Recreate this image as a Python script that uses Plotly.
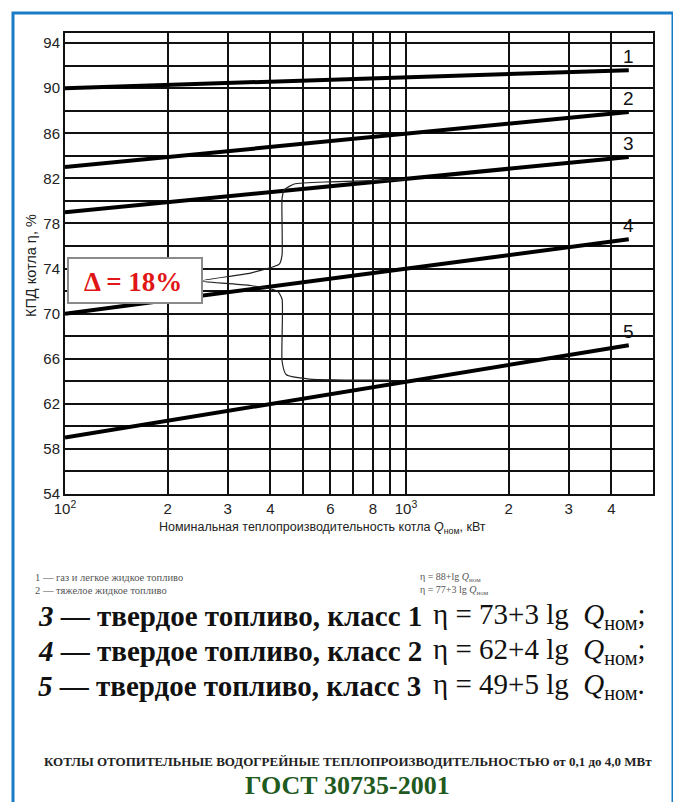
import math
import plotly.graph_objects as go

# ---------------- data ----------------
Q_START = 100          # kW, left end of every curve
Q_END = 4500           # kW, right end of every curve
curve_names = ["1", "2", "3", "4", "5"]
eta_start = [90.0, 83.0, 79.0, 70.0, 59.0]
eta_end = [91.6, 87.9, 83.9, 76.6, 67.2]

x_tick_vals = [100, 200, 300, 400, 500, 600, 700, 800, 900, 1000, 2000, 3000, 4000]
x_tick_text = ["10<sup>2</sup>", "2", "3", "4", "", "6", "", "8", "", "10<sup>3</sup>", "2", "3", "4"]
y_tick_vals = list(range(54, 95, 2))
y_tick_text = [str(v) if (v - 54) % 4 == 0 else "" for v in y_tick_vals]

# brace marking the 18 % spread
brace_q = [1000, 600, 470, 440, 433, 433, 425, 350, 250,
           350, 420, 433, 433, 445, 520, 900]
brace_eta = [81.9, 81.7, 81.5, 81.0, 80.2, 75.2, 74.4, 73.6, 72.9,
             72.5, 72.0, 71.3, 65.8, 64.6, 64.2, 64.1]

delta_text = "Δ = 18%"

legend_small = [("1 — газ и легкое жидкое топливо", "η = 88+lg <i>Q</i><sub>ном</sub>"),
                ("2 — тяжелое жидкое топливо", "η = 77+3 lg <i>Q</i><sub>ном</sub>")]
legend_big = [("3", "твердое топливо, класс 1", "η = 73+3 lg  ", ";"),
              ("4", "твердое топливо, класс 2", "η = 62+4 lg  ", ";"),
              ("5", "твердое топливо, класс 3", "η = 49+5 lg  ", ".")]
footer_small = "КОТЛЫ ОТОПИТЕЛЬНЫЕ ВОДОГРЕЙНЫЕ ТЕПЛОПРОИЗВОДИТЕЛЬНОСТЬЮ от 0,1 до 4,0 МВт"
footer_big = "ГОСТ 30735-2001"

# ---------------- layout geometry (window pixels; page has 8 px body margin) ----------------
OFF = 8
W, H = 681 - OFF, 802 - OFF
L, R, T, B = 65, 653, 33, 494   # plot area in window pixels
X_RANGE = [2.0, 3.7243]
Y_RANGE = [54.0, 94.9]


def px(x):
    return (x - L) / (R - L)


def py(y):
    return (B - y) / (B - T)


def note(x, y, text, size, color="#111", family="Liberation Serif", xanchor="center",
         yanchor="middle", angle=0):
    fig.add_annotation(xref="paper", yref="paper", x=px(x), y=py(y), text=text,
                       xanchor=xanchor, yanchor=yanchor, textangle=angle, showarrow=False,
                       font=dict(family=family, size=size, color=color))


fig = go.Figure()

for name, e0, e1 in zip(curve_names, eta_start, eta_end):
    fig.add_trace(go.Scatter(x=[Q_START, Q_END], y=[e0, e1], mode="lines",
                             line=dict(color="black", width=4), showlegend=False,
                             hoverinfo="skip"))
    fig.add_annotation(x=math.log10(Q_END), y=e1, xref="x", yref="y", text=name,
                       showarrow=False, xanchor="center", yanchor="bottom", yshift=1,
                       font=dict(family="Liberation Sans Narrow, Liberation Sans, Arial", size=19, color="#111"))

fig.add_trace(go.Scatter(x=brace_q, y=brace_eta, mode="lines",
                         line=dict(color="#222", width=1.2, shape="spline", smoothing=0.5),
                         showlegend=False, hoverinfo="skip"))

# delta box
fig.add_shape(type="rect", xref="paper", yref="paper", x0=px(68), x1=px(202), y0=py(303), y1=py(258),
              line=dict(color="#8a8a8a", width=2), fillcolor="white", layer="above")
note(133, 282, "<b>" + delta_text + "</b>", 27, color="#e01515")

# axis titles
sans = "Liberation Sans Narrow, Liberation Sans"
note(31, 266, "КПД котла η, %", 14.5, color="#222", family=sans, angle=-90)
note(322, 528, "Номинальная теплопроизводительность котла <i>Q</i><sub>ном</sub>, кВт",
     12.5, color="#222", family=sans)

# small legend rows
for i, (a, b) in enumerate(legend_small):
    yy = 577 + i * 13
    note(33, yy, a, 10.5, color="#555", xanchor="left")
    note(418, yy, b, 10, color="#555", xanchor="left")

# big legend rows
for i, (n, bold, eq, end) in enumerate(legend_big):
    yy = 616 + i * 35
    note(36, yy, "<i><b>" + n + "</b></i><b> — " + bold + "</b>", 29, xanchor="left")
    note(431, yy, eq + "<i>Q</i><sub>ном</sub>" + end, 29, xanchor="left")

note(348, 761, "<b>" + footer_small + "</b>", 13, color="#222")
note(347, 785, "<b>" + footer_big + "</b>", 26, color="#1f5a1f")

# blue frame
fig.add_shape(type="rect", xref="paper", yref="paper", x0=px(13), x1=px(673), y0=py(810), y1=py(13),
              line=dict(color="#1a7cc6", width=3), fillcolor="rgba(0,0,0,0)", layer="above")

fig.update_xaxes(type="log", range=X_RANGE, tickmode="array", tickvals=x_tick_vals, ticktext=x_tick_text,
                 showgrid=True, gridcolor="#111", gridwidth=2, showline=True, linecolor="#111",
                 linewidth=2, mirror=True, ticks="", zeroline=False,
                 tickfont=dict(family=sans, size=15, color="#222"))
fig.update_yaxes(range=Y_RANGE, tickmode="array", tickvals=y_tick_vals, ticktext=y_tick_text,
                 showgrid=True, gridcolor="#111", gridwidth=2, showline=True, linecolor="#111",
                 linewidth=2, mirror=True, ticks="", zeroline=False,
                 tickfont=dict(family=sans, size=15, color="#222"))

fig.update_layout(width=W, height=H,
                  margin=dict(l=L - OFF, r=681 - R, t=T - OFF, b=802 - B),
                  paper_bgcolor="white", plot_bgcolor="white", showlegend=False)

fig.write_html("out.html")
